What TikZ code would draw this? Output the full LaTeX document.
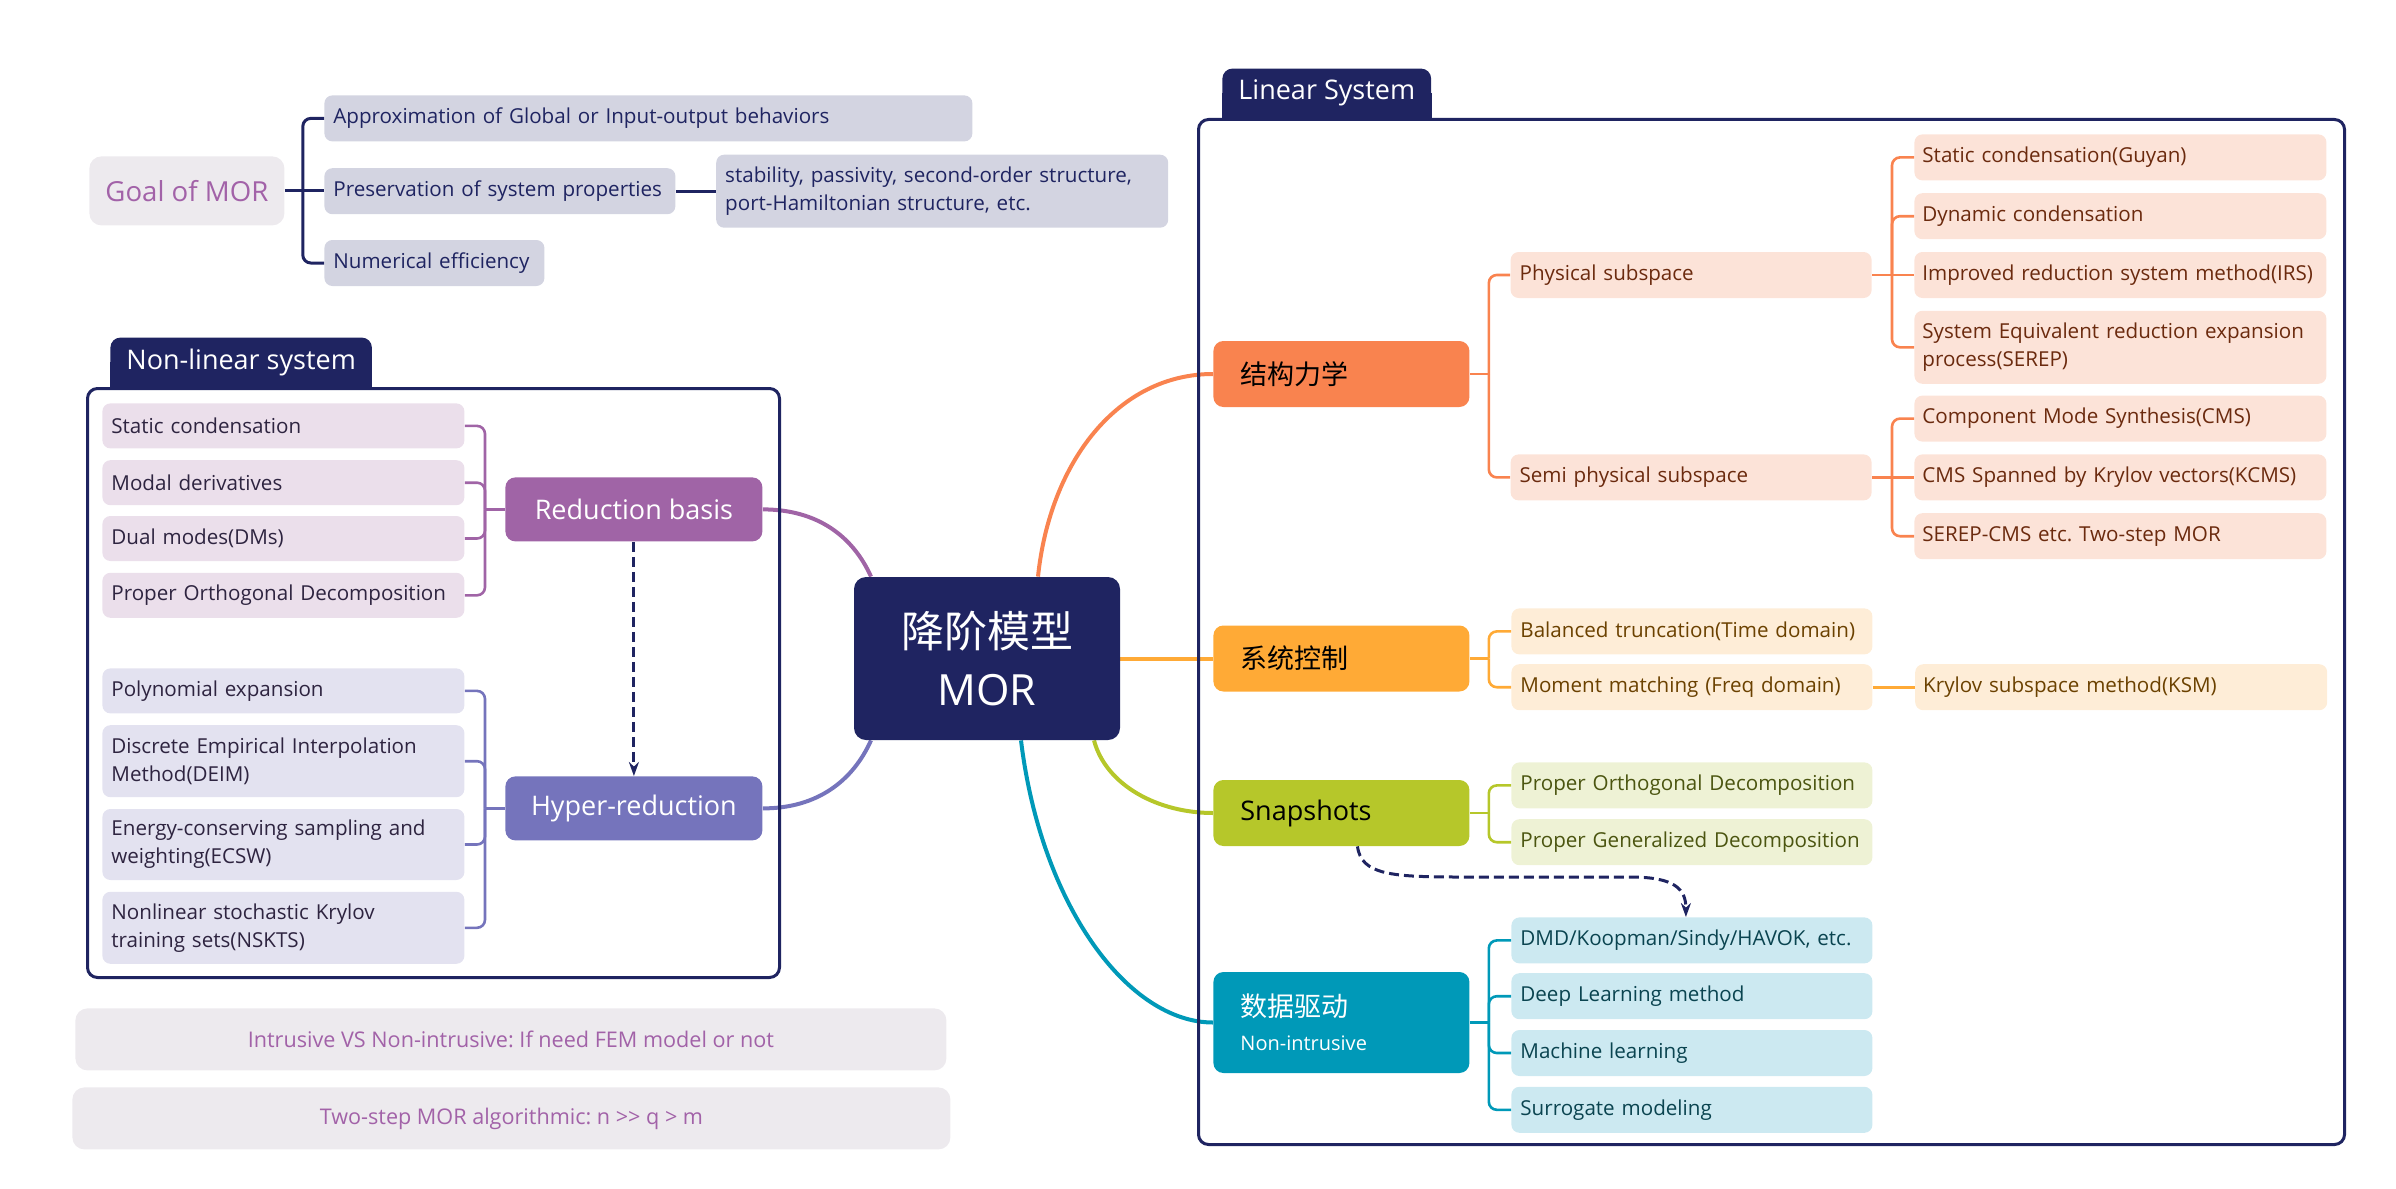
\documentclass[tikz,border=0pt]{standalone}
\usepackage{fontspec}
\setmainfont{Open Sans}
\newfontfamily\cjk{Noto Sans CJK SC}
\usetikzlibrary{arrows.meta, positioning, backgrounds}
\frenchspacing

\definecolor{navy}{HTML}{1F2461}
\definecolor{goalfill}{HTML}{EDEAEE}
\definecolor{goaltext}{HTML}{A262A8}
\definecolor{greyfill}{HTML}{D3D4E1}
\definecolor{redc}{HTML}{A064A6}
\definecolor{redfill}{HTML}{EBDFEB}
\definecolor{hypc}{HTML}{7574BC}
\definecolor{hypfill}{HTML}{E3E2F0}
\definecolor{leaftext}{HTML}{2E2440}
\definecolor{strc}{HTML}{F9834F}
\definecolor{strfill}{HTML}{FCE3D8}
\definecolor{strtext}{HTML}{6B2A0E}
\definecolor{ctrc}{HTML}{FFAA36}
\definecolor{ctrfill}{HTML}{FEEDD7}
\definecolor{ctrtext}{HTML}{6B4100}
\definecolor{snpc}{HTML}{B6C72A}
\definecolor{snpfill}{HTML}{EEF2D5}
\definecolor{snptext}{HTML}{4B5510}
\definecolor{datc}{HTML}{0099B8}
\definecolor{datfill}{HTML}{CCE9F1}
\definecolor{dattext}{HTML}{0A4450}

\tikzset{
  leaf/.style={rounded corners=4pt, minimum height=23pt, inner xsep=4.5pt, inner ysep=2pt,
    align=left, font=\fontsize{10.3}{14}\selectfont},
  lvtwo/.style={leaf, text width=171.5pt},
  lvthree/.style={leaf, inner xsep=4pt, text width=198pt},
  goalleaf/.style={leaf, fill=greyfill, text=navy},
  redleaf/.style={leaf, fill=redfill, text=leaftext, text width=172pt, minimum height=22.5pt},
  hypleaf/.style={leaf, fill=hypfill, text=leaftext, text width=172pt, minimum height=22.5pt},
  strleaf/.style={fill=strfill, text=strtext},
  ctrleaf/.style={fill=ctrfill, text=ctrtext},
  snpleaf/.style={fill=snpfill, text=snptext},
  datleaf/.style={fill=datfill, text=dattext},
  catbox/.style={rounded corners=5pt, minimum height=33pt, inner xsep=13.5pt, text width=101pt,
    align=left, font=\fontsize{13.5}{16}\selectfont},
  midbox/.style={rounded corners=5pt, minimum width=128.5pt, minimum height=32pt, text=white,
    font=\fontsize{13.5}{16}\selectfont},
  groupframe/.style={draw=navy, line width=1.5pt, rounded corners=5pt},
  grouptab/.style={fill=navy, text=white, rounded corners=5pt, inner xsep=8pt, minimum height=24.5pt,
    font=\fontsize{13.5}{16}\selectfont},
  note/.style={fill=goalfill, text=goaltext, rounded corners=6pt, minimum height=31pt,
    font=\fontsize{10.8}{13}\selectfont},
  branch/.style={line width=1.3pt, rounded corners=4pt},
  trunk/.style={line width=2pt},
  dasharrow/.style={navy, line width=1.5pt, dash pattern=on 5pt off 2.5pt, -{Stealth[length=7pt, width=5pt]}}
}

\begin{document}
\begin{tikzpicture}[x=0.5pt, y=-0.5pt]
  \useasboundingbox (0,0) rectangle (2396,1188);

  % goal of MOR
  \node[fill=goalfill, text=goaltext, rounded corners=6pt, minimum width=97.5pt, minimum height=34.5pt,
    font=\fontsize{13.8}{16}\selectfont, anchor=north west] (goal) at (89,156) {Goal of MOR};
  \node[goalleaf, text width=315pt, anchor=north west] (appr) at (324,95) {Approximation of Global or Input-output behaviors};
  \node[goalleaf, text width=166.5pt, below=13pt of appr.south west, anchor=north west] (pres) {Preservation of system properties};
  \node[goalleaf, text width=101pt, below=12.5pt of pres.south west, anchor=north west] (numer) {Numerical efficiency};
  \node[goalleaf, text width=217pt, minimum height=36.5pt, right=20pt of pres] (stab) {stability, passivity, second-order structure,\\port-Hamiltonian structure, etc.};
  \coordinate (gj) at ([xshift=9pt]goal.east);
  \draw[branch, navy, line width=1.5pt] (goal.east) -- (gj) -- (gj -| pres.west);
  \foreach \c in {appr,numer} \draw[branch, navy, line width=1.5pt] (gj) |- (\c.west);
  \draw[branch, navy, line width=1.5pt] (pres.east) -- (pres.east -| stab.west);

  % non-linear system
  \node[groupframe, minimum width=346pt, minimum height=294.5pt, anchor=north west] (nlbox) at (86,387) {};
  \node[grouptab, anchor=south west] (nltab) at (110,387) {Non-linear system};
  \begin{scope}[on background layer]
    \fill[navy] (nltab.west) rectangle (nltab.south east);
  \end{scope}

  \node[redleaf, anchor=north west] (sc) at (102,403) {Static condensation};
  \node[redleaf, below=5.5pt of sc] (md) {Modal derivatives};
  \node[redleaf, below=5pt of md] (dm) {Dual modes(DMs)};
  \node[redleaf, below=5.5pt of dm] (pod) {Proper Orthogonal Decomposition};
  \node[midbox, fill=redc, anchor=north west] (rb) at (505,477) {Reduction basis};

  \node[hypleaf, anchor=north west] (poly) at (102,668) {Polynomial expansion};
  \node[hypleaf, minimum height=36pt, below=5.5pt of poly] (deim) {Discrete Empirical Interpolation\\Method(DEIM)};
  \node[hypleaf, minimum height=35.5pt, below=5.5pt of deim] (ecsw) {Energy-conserving sampling and\\weighting(ECSW)};
  \node[hypleaf, minimum height=36pt, below=5.5pt of ecsw] (nskts) {Nonlinear stochastic Krylov\\training sets(NSKTS)};
  \node[midbox, fill=hypc, anchor=north west] (hr) at (505,776) {Hyper-reduction};

  \coordinate (rj) at ([xshift=-10pt]rb.west);
  \draw[branch, redc] (rb.west) -- (rj);
  \foreach \c in {sc,md,dm,pod} \draw[branch, redc] (rj) |- (\c.east);
  \coordinate (hj) at ([xshift=-10pt]hr.west);
  \draw[branch, hypc] (hr.west) -- (hj);
  \foreach \c in {poly,deim,ecsw,nskts} \draw[branch, hypc] (hj) |- (\c.east);
  \draw[dasharrow] (rb) -- (hr);

  % centre
  \node[fill=navy, text=white, rounded corners=6pt, minimum width=133pt, minimum height=81.5pt, align=center,
    font=\fontsize{21.5}{29}\selectfont] (mor) at (987,658.5) {{\cjk 降阶模型}\\MOR};

  % linear system
  \node[groupframe, minimum width=573pt, minimum height=512.5pt, anchor=north west] (linbox) at (1197,118) {};
  \node[grouptab, anchor=south west] (lintab) at (1222,118) {Linear System};
  \begin{scope}[on background layer]
    \fill[navy] (lintab.west) rectangle (lintab.south east);
  \end{scope}

  \node[lvthree, strleaf, anchor=north west] (guyan) at (1914,134) {Static condensation(Guyan)};
  \node[lvthree, strleaf, below=6pt of guyan] (dyn) {Dynamic condensation};
  \node[lvthree, strleaf, below=6pt of dyn] (irs) {Improved reduction system method(IRS)};
  \node[lvthree, strleaf, minimum height=36.5pt, below=6pt of irs] (serep) {System Equivalent reduction expansion\\process(SEREP)};
  \node[lvthree, strleaf, below=5.5pt of serep] (cms) {Component Mode Synthesis(CMS)};
  \node[lvthree, strleaf, below=6pt of cms] (kcms) {CMS Spanned by Krylov vectors(KCMS)};
  \node[lvthree, strleaf, below=6pt of kcms] (serepcms) {SEREP-CMS etc. Two-step MOR};
  \node[lvtwo, strleaf, left=21pt of irs] (phys) {Physical subspace};
  \node[lvtwo, strleaf, left=21pt of kcms] (semi) {Semi physical subspace};
  \node[catbox, fill=strc, anchor=west] (struct) at (1213,374) {{\cjk 结构力学}};

  \node[lvtwo, ctrleaf, anchor=north west] (bal) at (1511,608) {Balanced truncation(Time domain)};
  \node[lvtwo, ctrleaf, below=4.5pt of bal] (mom) {Moment matching (Freq domain)};
  \node[lvthree, ctrleaf, right=21pt of mom] (ksm) {Krylov subspace method(KSM)};
  \node[catbox, fill=ctrc, anchor=west] (ctrl) at (1213,658.5) {{\cjk 系统控制}};

  \node[lvtwo, snpleaf, anchor=north west] (pod2) at (1511,762) {Proper Orthogonal Decomposition};
  \node[lvtwo, snpleaf, below=5pt of pod2] (pgd) {Proper Generalized Decomposition};
  \node[catbox, fill=snpc, anchor=west] (snap) at (1213,813) {Snapshots};

  \node[lvtwo, datleaf, anchor=north west] (dmd) at (1511,917) {DMD/Koopman/Sindy/HAVOK, etc.};
  \node[lvtwo, datleaf, below=4.5pt of dmd] (dl) {Deep Learning method};
  \node[lvtwo, datleaf, below=5pt of dl] (ml) {Machine learning};
  \node[lvtwo, datleaf, below=5pt of ml] (sur) {Surrogate modeling};
  \node[catbox, fill=datc, text=white, minimum height=50.5pt, anchor=west] (data) at (1213,1022.5)
    {{\cjk 数据驱动}\\[1pt]{\fontsize{10}{12}\selectfont Non-intrusive}};

  % branches on the right
  \coordinate (sj) at ([xshift=9.5pt]struct.east);
  \draw[branch, strc] (struct.east) -- (sj);
  \foreach \c in {phys,semi} \draw[branch, strc] (sj) |- (\c.west);
  \coordinate (pj) at ([xshift=10pt]phys.east);
  \draw[branch, strc] (phys.east) -- (pj) -- (pj -| irs.west);
  \foreach \c in {guyan,dyn,serep} \draw[branch, strc] (pj) |- (\c.west);
  \coordinate (qj) at ([xshift=10pt]semi.east);
  \draw[branch, strc] (semi.east) -- (qj) -- (qj -| kcms.west);
  \foreach \c in {cms,serepcms} \draw[branch, strc] (qj) |- (\c.west);

  \coordinate (cj) at ([xshift=9.5pt]ctrl.east);
  \draw[branch, ctrc] (ctrl.east) -- (cj);
  \foreach \c in {bal,mom} \draw[branch, ctrc] (cj) |- (\c.west);
  \draw[branch, ctrc] (mom.east) -- (ksm.west);

  \coordinate (nj) at ([xshift=9.5pt]snap.east);
  \draw[branch, snpc] (snap.east) -- (nj);
  \foreach \c in {pod2,pgd} \draw[branch, snpc] (nj) |- (\c.west);

  \coordinate (dj) at ([xshift=9.5pt]data.east);
  \draw[branch, datc] (data.east) -- (dj);
  \foreach \c in {dmd,dl,ml,sur} \draw[branch, datc] (dj) |- (\c.west);

  \coordinate (dipA) at (1460,877);
  \coordinate (dipB) at (1630,877);
  \draw[dasharrow] ([xshift=8pt]snap.south) .. controls +(4,28) and +(-70,0) .. (dipA) -- (dipB)
    .. controls +(45,0) and +(0,-28) .. ([xshift=-3pt]dmd.north);

  % trunks from the centre
  \begin{scope}[on background layer]
    \draw[trunk, strc] ([xshift=25.5pt]mor.north) .. controls +(12,-115) and +(-95,0) .. (struct.west);
    \draw[trunk, ctrc] (mor.east) -- (ctrl.west);
    \draw[trunk, snpc] ([xshift=53.5pt]mor.south) .. controls +(12,45) and +(-55,0) .. (snap.west);
    \draw[trunk, datc] ([xshift=17pt]mor.south) .. controls +(20,165) and +(-85,0) .. (data.west);
    \draw[trunk, redc] (rb.east) .. controls +(55,0) and +(-18,-40) .. ([xshift=-58pt]mor.north);
    \draw[trunk, hypc] (hr.east) .. controls +(55,0) and +(-18,40) .. ([xshift=-58pt]mor.south);
  \end{scope}

  % notes
  \node[note, minimum width=435.5pt, anchor=north west] (intr) at (75,1008) {Intrusive VS Non-intrusive: If need FEM model or not};
  \node[note, minimum width=439pt, anchor=north west] (twostep) at (72,1087) {Two-step MOR algorithmic: n >{}> q > m};
\end{tikzpicture}
\end{document}
